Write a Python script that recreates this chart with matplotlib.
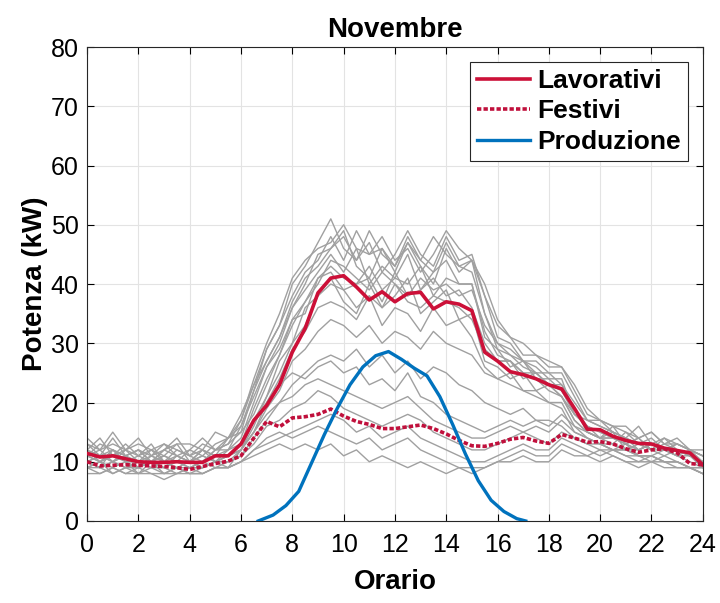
import numpy as np
import matplotlib
matplotlib.use("Agg")
import matplotlib.pyplot as plt

plt.rcParams['font.family'] = ['Liberation Sans', 'DejaVu Sans']

# ---------- data ----------
ore = [i * 0.5 for i in range(49)]   # 0 .. 24 h, half-hour steps

lavorativi = [11.4, 10.8, 11.0, 10.5, 10.0, 9.9, 9.9, 10.0, 9.9, 9.9, 11.0, 11.0,
              13.0, 17.0, 19.5, 23.0, 28.5, 32.5, 38.5, 41.0, 41.4, 39.5, 37.3, 38.7,
              37.0, 38.4, 38.6, 35.8, 37.0, 36.6, 35.5, 28.5, 27.0, 25.2, 24.7, 24.0,
              23.0, 22.3, 19.0, 15.5, 15.4, 14.3, 13.6, 13.1, 13.0, 12.3, 11.9, 11.5, 9.5]

festivi = [10.0, 9.3, 9.4, 9.5, 9.4, 9.3, 9.2, 9.0, 8.7, 9.2, 9.7, 10.1,
           11.0, 14.0, 16.8, 15.9, 17.4, 17.6, 18.0, 18.9, 17.7, 16.8, 16.3, 15.6,
           15.6, 15.9, 16.2, 15.6, 14.7, 13.6, 12.7, 12.6, 13.1, 13.8, 14.1, 13.5,
           13.1, 14.6, 14.0, 13.3, 13.4, 13.0, 12.2, 11.6, 12.0, 12.2, 11.5, 9.7, 9.5]

ore_prod = [6.67, 7.25, 7.75, 8.25, 8.75, 9.25, 9.75, 10.25, 10.75, 11.25, 11.75,
            12.25, 12.75, 13.25, 13.75, 14.25, 14.75, 15.25, 15.75, 16.25, 16.75, 17.1]
produzione = [0.0, 1.0, 2.6, 5.0, 9.8, 14.6, 19.0, 23.0, 26.0, 27.9, 28.6,
              27.3, 25.8, 24.5, 21.0, 16.3, 11.3, 6.8, 3.5, 1.6, 0.4, 0.0]

# single-day profiles (grey), half-hour steps 0..24 h
giorni = [
    [12, 11, 14, 11, 12, 10, 12, 13, 10, 11, 13, 14, 17, 23, 27, 31, 36, 40, 45,
     46, 49, 43, 41, 46, 42, 47, 43, 40, 46, 42, 44, 35, 29, 28, 26, 25, 23, 21,
     17, 15, 14, 16, 13, 14, 12, 14, 12, 11, 10],
    [10, 9, 12, 10, 8, 10, 9, 11, 10, 9, 10, 11, 12, 17, 21, 27, 30, 36, 38,
     41, 37, 35, 40, 36, 38, 41, 35, 37, 39, 34, 35, 27, 26, 24, 25, 22, 23, 21,
     18, 16, 14, 15, 12, 13, 12, 12, 11, 11, 9],
    [13, 12, 15, 12, 14, 11, 12, 14, 11, 12, 15, 14, 18, 23, 29, 33, 38, 42, 44,
     48, 44, 49, 45, 46, 43, 48, 44, 42, 47, 43, 44, 38, 31, 30, 27, 27, 25, 25,
     21, 17, 17, 15, 14, 16, 13, 14, 13, 12, 11],
    [11, 10, 12, 11, 9, 11, 10, 9, 10, 12, 10, 12, 14, 20, 26, 29, 34, 35, 41,
     42, 39, 40, 41, 37, 42, 38, 39, 41, 38, 39, 36, 30, 27, 27, 24, 25, 23, 23,
     19, 15, 14, 14, 14, 12, 13, 12, 11, 12, 10],
    [9, 10, 8, 9, 9, 10, 8, 9, 8, 9, 10, 9, 12, 15, 20, 24, 29, 32, 36,
     37, 36, 34, 38, 33, 36, 35, 32, 36, 33, 34, 31, 26, 24, 25, 22, 22, 20, 20,
     16, 14, 13, 12, 13, 11, 11, 10, 10, 9, 8],
    [12, 14, 11, 12, 13, 12, 11, 13, 13, 12, 11, 14, 16, 22, 27, 31, 37, 41, 43,
     46, 48, 44, 47, 42, 45, 49, 45, 43, 48, 44, 45, 38, 33, 31, 28, 28, 26, 26,
     22, 18, 17, 16, 16, 14, 15, 13, 14, 12, 12],
    [10, 11, 10, 12, 10, 12, 10, 11, 10, 10, 12, 12, 13, 19, 24, 28, 34, 37, 41,
     43, 41, 40, 43, 39, 41, 40, 43, 38, 41, 40, 40, 31, 29, 26, 27, 24, 24, 22,
     19, 16, 15, 14, 13, 14, 12, 13, 12, 11, 10],
    [14, 12, 13, 12, 11, 12, 13, 11, 12, 14, 12, 14, 15, 22, 29, 33, 40, 43, 47,
     51, 46, 44, 49, 45, 43, 47, 44, 48, 45, 43, 42, 35, 30, 29, 27, 26, 24, 24,
     18, 17, 16, 15, 14, 13, 14, 12, 13, 12, 11],
    [11, 12, 10, 11, 12, 10, 11, 10, 12, 11, 10, 11, 12, 16, 21, 25, 30, 33, 38,
     40, 39, 36, 38, 36, 40, 37, 36, 38, 37, 36, 34, 29, 27, 27, 25, 24, 22, 21,
     17, 15, 14, 13, 15, 13, 12, 11, 12, 11, 10],
    [12, 10, 11, 13, 11, 10, 12, 11, 10, 12, 11, 12, 16, 21, 26, 30, 36, 39, 42,
     45, 42, 46, 40, 43, 41, 45, 39, 42, 44, 40, 40, 32, 28, 27, 25, 25, 23, 22,
     18, 16, 15, 14, 13, 12, 13, 12, 12, 11, 10],
    [10, 9, 10, 9, 10, 9, 10, 9, 9, 10, 9, 10, 12, 15, 19, 22, 27, 29, 32,
     34, 33, 31, 33, 30, 32, 31, 29, 32, 30, 29, 28, 25, 24, 23, 22, 21, 20, 19,
     15, 14, 13, 12, 12, 11, 11, 10, 10, 9, 9],
    [13, 11, 12, 10, 11, 13, 10, 12, 11, 10, 12, 13, 17, 24, 30, 35, 41, 44, 46,
     47, 50, 46, 45, 48, 44, 46, 42, 45, 49, 46, 44, 40, 34, 31, 30, 28, 27, 26,
     23, 19, 17, 16, 15, 14, 15, 13, 13, 12, 11],
    [11, 13, 12, 11, 12, 11, 13, 12, 11, 13, 12, 13, 15, 18, 23, 28, 33, 37, 40,
     44, 43, 41, 39, 42, 40, 38, 41, 39, 40, 38, 39, 33, 30, 28, 27, 25, 25, 23,
     20, 17, 16, 15, 14, 13, 13, 12, 13, 12, 11],
    [9, 10, 9, 10, 9, 10, 9, 10, 9, 9, 10, 10, 11, 14, 17, 20, 23, 25, 27,
     28, 27, 29, 26, 28, 25, 27, 24, 26, 25, 23, 22, 20, 19, 18, 19, 17, 17, 16,
     14, 13, 12, 12, 11, 11, 10, 10, 9, 9, 8],
    [10, 9, 10, 9, 10, 9, 9, 8, 9, 9, 10, 10, 11, 13, 16, 17, 19, 20, 22,
     21, 19, 18, 17, 16, 17, 18, 17, 15, 14, 13, 12, 12, 13, 14, 15, 14, 13, 15,
     14, 13, 13, 12, 12, 11, 11, 12, 11, 10, 9],
    [9, 8, 9, 8, 9, 8, 8, 9, 8, 8, 9, 9, 10, 12, 14, 15, 14, 15, 16,
     15, 14, 13, 14, 12, 13, 14, 12, 11, 10, 9, 9, 9, 10, 11, 12, 11, 11, 13,
     12, 11, 12, 11, 10, 10, 11, 10, 10, 9, 8],
    [11, 10, 11, 10, 10, 11, 10, 10, 9, 10, 11, 11, 12, 15, 18, 20, 21, 23, 24,
     23, 22, 21, 20, 19, 20, 21, 19, 17, 16, 15, 14, 14, 15, 16, 15, 16, 15, 17,
     15, 14, 13, 13, 12, 12, 13, 12, 12, 11, 10],
    [8, 8, 9, 8, 8, 8, 7, 8, 8, 8, 9, 9, 10, 12, 13, 14, 15, 16, 17,
     18, 17, 15, 16, 14, 15, 16, 14, 13, 12, 11, 10, 10, 11, 12, 13, 12, 12, 14,
     13, 12, 11, 12, 11, 10, 10, 11, 10, 9, 9],
    [10, 11, 10, 11, 10, 10, 11, 10, 10, 11, 10, 11, 13, 17, 20, 23, 25, 24, 26,
     27, 25, 26, 23, 24, 22, 25, 21, 20, 18, 17, 16, 15, 16, 17, 16, 17, 16, 18,
     16, 15, 14, 14, 13, 12, 13, 12, 12, 11, 10],
    [9, 9, 8, 9, 8, 9, 8, 8, 9, 8, 9, 9, 10, 11, 12, 13, 12, 13, 12,
     13, 11, 12, 10, 11, 10, 9, 10, 9, 8, 9, 8, 9, 10, 10, 11, 10, 10, 12,
     11, 11, 10, 11, 10, 9, 10, 9, 9, 9, 8],
]

# ---------- plotting ----------
fig = plt.figure(figsize=(7.2, 6.03), dpi=100)
ax = fig.add_axes([0.121, 0.136, 0.855, 0.786])

for g in giorni:
    ax.plot(ore, g, color='#a0a0a0', lw=1.0, zorder=2)

ax.plot(ore, lavorativi, color='#cc1038', lw=2.6, label='Lavorativi', zorder=4)
ax.plot(ore, festivi, color='#c0103c', lw=2.6, ls=(0, (1.2, 0.6)),
        label='Festivi', zorder=4)
ax.plot(ore_prod, produzione, color='#0072bd', lw=2.4, label='Produzione', zorder=4)

ax.set_xlim(0, 24)
ax.set_ylim(0, 80)
ax.set_xticks(range(0, 25, 2))
ax.set_yticks(range(0, 81, 10))
ax.tick_params(direction='in', top=True, right=True, labelsize=18, length=5,
               width=0.8, pad=6)
ax.tick_params(axis='x', pad=9)
ax.grid(True, color='#e3e3e3', lw=0.8)
ax.set_axisbelow(True)
for s in ax.spines.values():
    s.set_linewidth(0.8)
    s.set_color('#262626')

ax.set_title('Novembre', fontsize=20, fontweight='bold', pad=7)
ax.set_xlabel('Orario', fontsize=20, fontweight='bold', labelpad=8)
ax.set_ylabel('Potenza (kW)', fontsize=20, fontweight='bold', labelpad=2)

leg = ax.legend(loc='upper right', prop={'weight': 'bold', 'size': 19},
                handlelength=2.0, handletextpad=0.3, labelspacing=0.25,
                borderpad=0.25, borderaxespad=0, fancybox=False, framealpha=1,
                bbox_to_anchor=(0.976, 0.968))
leg.get_frame().set_edgecolor('#262626')
leg.get_frame().set_linewidth(0.8)

fig.savefig('out.png', dpi=100)
